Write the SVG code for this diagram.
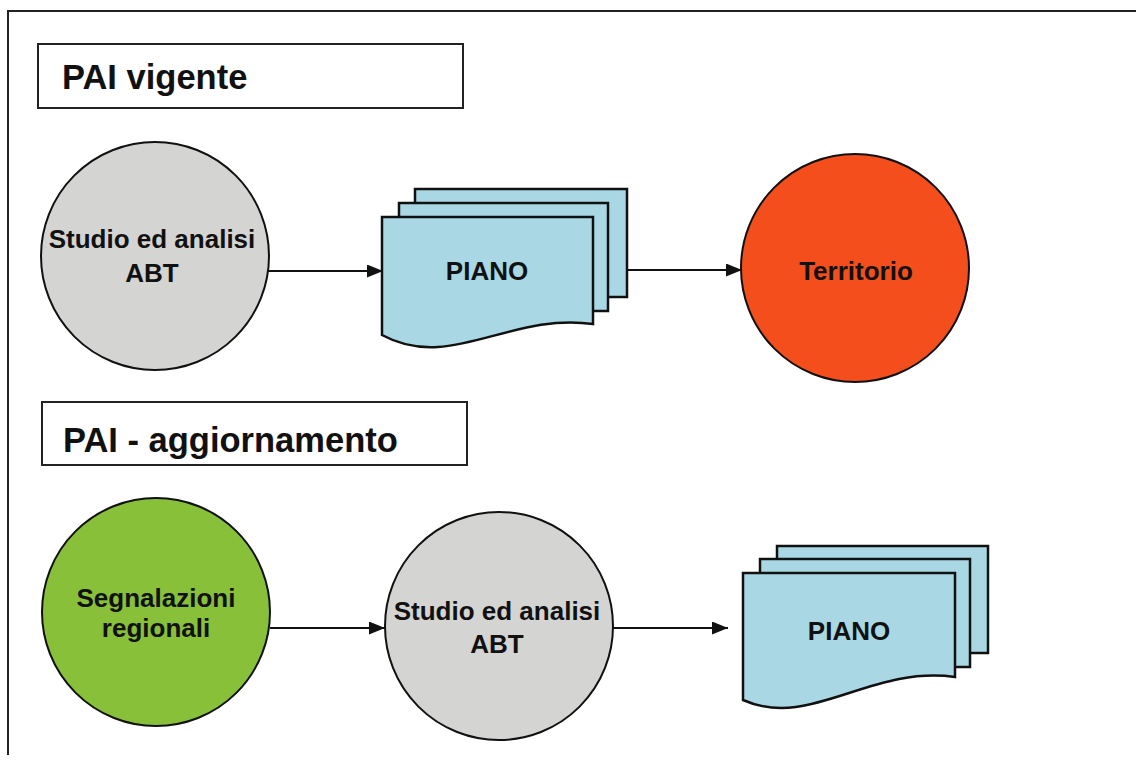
<svg xmlns="http://www.w3.org/2000/svg" width="1136" height="768" viewBox="0 0 1136 768">
<defs>
<marker id="arr" viewBox="0 0 16 13" refX="16" refY="6.5" markerWidth="16" markerHeight="13" markerUnits="userSpaceOnUse" orient="auto">
<path d="M0,0 L16,6.5 L0,13 Z" fill="#111"/>
</marker>
<style>
.frame{fill:none;stroke:#222;stroke-width:2}
.title{fill:#fff;stroke:#222;stroke-width:2}
.ttext{font-family:"Liberation Sans",Arial,sans-serif;font-weight:bold;font-size:34.5px;fill:#111}
.ntext{font-family:"Liberation Sans",Arial,sans-serif;font-weight:bold;font-size:26px;fill:#111;text-anchor:middle}
.gray{fill:#D4D4D2;stroke:#111;stroke-width:2}
.red{fill:#F34E1C;stroke:#111;stroke-width:2}
.green{fill:#88C03A;stroke:#111;stroke-width:2}
.doc{fill:#A9D8E4;stroke:#111;stroke-width:2.5;stroke-linejoin:miter}
.conn{fill:none;stroke:#111;stroke-width:2.2;marker-end:url(#arr)}
</style>
</defs>
<rect width="1136" height="768" fill="#fff"/>
<path class="frame" d="M8,755 V11 H1136"/>

<g id="title1">
<rect class="title" x="38" y="44" width="425" height="64"/>
<text class="ttext" x="62" y="89">PAI vigente</text>
</g>
<g id="title2">
<rect class="title" x="42" y="402" width="425" height="63"/>
<text class="ttext" x="63" y="452">PAI - aggiornamento</text>
</g>

<g id="connectors">
<line class="conn" x1="268" y1="271" x2="383" y2="271"/>
<line class="conn" x1="627" y1="270" x2="742" y2="270"/>
<line class="conn" x1="270" y1="628" x2="385" y2="628"/>
<line class="conn" x1="613" y1="628" x2="728" y2="628"/>
</g>

<g id="studio1">
<circle class="gray" cx="155" cy="256" r="114"/>
<text class="ntext" x="152" y="248">Studio ed analisi</text>
<text class="ntext" x="152" y="282">ABT</text>
</g>

<g id="piano1">
<rect class="doc" x="415" y="189" width="212" height="108"/>
<rect class="doc" x="399" y="203" width="209" height="108"/>
<path class="doc" d="M382,217 H593 V324 C510,312 450,372 382,335 Z"/>
<text class="ntext" x="487" y="280">PIANO</text>
</g>

<g id="territorio">
<circle class="red" cx="855" cy="268" r="114"/>
<text class="ntext" x="856" y="280">Territorio</text>
</g>

<g id="segnalazioni">
<circle class="green" cx="156" cy="612" r="114"/>
<text class="ntext" x="156" y="607">Segnalazioni</text>
<text class="ntext" x="156" y="637">regionali</text>
</g>

<g id="studio2">
<circle class="gray" cx="499" cy="626" r="114"/>
<text class="ntext" x="497" y="620">Studio ed analisi</text>
<text class="ntext" x="497" y="653">ABT</text>
</g>

<g id="piano2">
<rect class="doc" x="777" y="546" width="211" height="107"/>
<rect class="doc" x="760" y="559" width="210" height="108"/>
<path class="doc" d="M743,573 H955 V677 C870,665 810,730 743,700 Z"/>
<text class="ntext" x="849" y="640">PIANO</text>
</g>
</svg>
